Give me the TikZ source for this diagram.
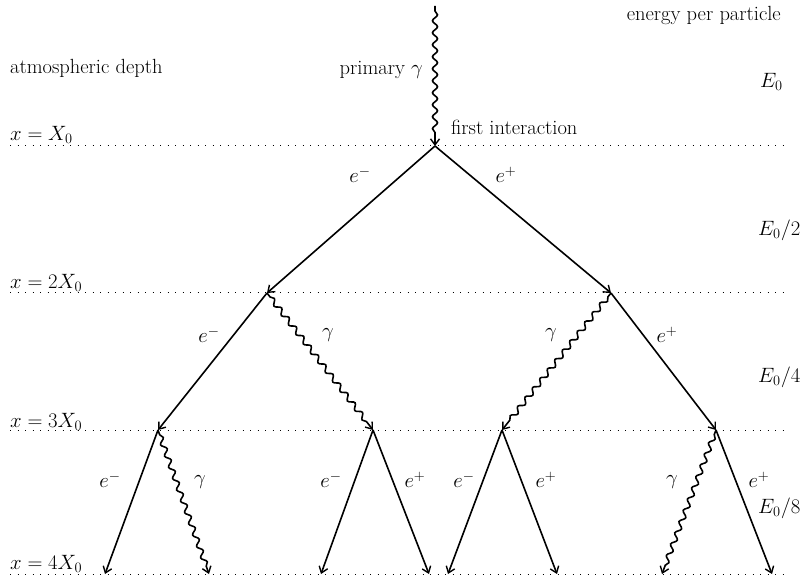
\documentclass[tikz,border=0pt]{standalone}
\usetikzlibrary{arrows.meta,decorations.pathmorphing}
\begin{document}
\begin{tikzpicture}[x=1pt,y=-1pt,
  every node/.style={font=\fontsize{20.5}{24}\selectfont, inner sep=0pt},
  lepton/.style={line width=1.6pt, -{Straight Barb[length=6pt,width=9pt,line width=1.4pt]}},
  photon/.style={line width=1.6pt, -{Straight Barb[length=6pt,width=9pt,line width=1.4pt]},
     decorate, decoration={snake, segment length=12pt, amplitude=2.5pt, pre length=5pt, post length=8pt}},
  depthline/.style={line width=1pt, dash pattern=on 1pt off 6.5pt}
]
\useasboundingbox (0,0) rectangle (803,577);
% depth lines
\foreach \yy/\nm in {146/l1,293/l2,430/l3,574/l4}{
  \coordinate (\nm a) at (10,\yy);
  \coordinate (\nm b) at (785,\yy);
  \draw[depthline] (\nm a) -- (\nm b);
}
% vertices
\coordinate (top) at (435,6);
\coordinate (v0) at (435,146);
\coordinate (v1) at (267,293);
\coordinate (v2) at (611,293);
\coordinate (v3) at (158,430);
\coordinate (v4) at (373,430);
\coordinate (v5) at (502,430);
\coordinate (v6) at (716,430);
\coordinate (f1) at (105,574);
\coordinate (f2) at (209,574);
\coordinate (f3) at (321,574);
\coordinate (f4) at (429,574);
\coordinate (f5) at (448,574);
\coordinate (f6) at (557,574);
\coordinate (f7) at (662,574);
\coordinate (f8) at (772,574);
% particles
\draw[photon] (top) -- (v0);
\draw[lepton] (v0) -- (v1);
\draw[lepton] (v0) -- (v2);
\draw[lepton] (v1) -- (v3);
\draw[photon] (v1) -- (v4);
\draw[photon] (v2) -- (v5);
\draw[lepton] (v2) -- (v6);
\draw[lepton] (v3) -- (f1);
\draw[photon] (v3) -- (f2);
\draw[lepton] (v4) -- (f3);
\draw[lepton] (v4) -- (f4);
\draw[lepton] (v5) -- (f5);
\draw[lepton] (v5) -- (f6);
\draw[photon] (v6) -- (f7);
\draw[lepton] (v6) -- (f8);
% left labels
\node[anchor=west] (ad) at (10,68) {atmospheric depth};
\node[anchor=west] (d1) at (10,135) {$x = X_0$};
\node[anchor=west] (d2) at (10,283) {$x = 2X_0$};
\node[anchor=west] (d3) at (10,422) {$x = 3X_0$};
\node[anchor=west] (d4) at (10,564) {$x = 4X_0$};
% right labels
\node[anchor=east] (epp) at (781,15) {energy per particle};
\node[anchor=west] (en0) at (760,82) {$E_0$};
\node[anchor=west] (en1) at (758,230) {$E_0/2$};
\node[anchor=west] (en2) at (758,377) {$E_0/4$};
\node[anchor=west] (en3) at (758,508) {$E_0/8$};
% other labels
\node[anchor=east] (pg) at (423,70) {primary $\gamma$};
\node[anchor=west] (fi) at (451,127) {first interaction};
\node (a1) at (360,175) {$e^-$};
\node (a2) at (506,175) {$e^+$};
\node (b1) at (209,335) {$e^-$};
\node (b2) at (328,335) {$\gamma$};
\node (b3) at (551,335) {$\gamma$};
\node (b4) at (667,335) {$e^+$};
\node (c1) at (110,480) {$e^-$};
\node (c2) at (200,482) {$\gamma$};
\node (c3) at (331,480) {$e^-$};
\node (c4) at (415,480) {$e^+$};
\node (c5) at (464,480) {$e^-$};
\node (c6) at (546,480) {$e^+$};
\node (c7) at (672,482) {$\gamma$};
\node (c8) at (759,480) {$e^+$};
\end{tikzpicture}
\end{document}
